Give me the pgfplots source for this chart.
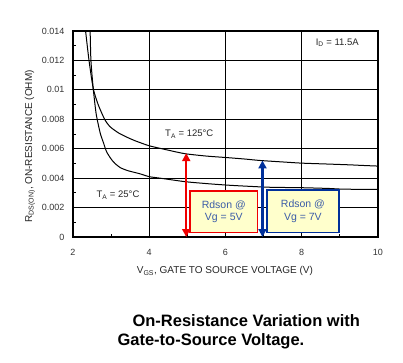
\documentclass[border=0pt]{standalone}
\usepackage{pgfplots}
\pgfplotsset{compat=1.18}
\usepackage{fontspec}
\setmainfont{Liberation Sans}
\usetikzlibrary{arrows.meta}
\definecolor{boxfill}{HTML}{FFFFCC}
\definecolor{boxtext}{HTML}{3B5CA8}
\definecolor{darkblue}{HTML}{00309A}
\definecolor{brightred}{HTML}{F00000}
\begin{document}
\begin{tikzpicture}
\useasboundingbox (0,0) rectangle (403pt,362pt);
\begin{axis}[
  at={(73pt,125pt)}, anchor=south west,
  scale only axis, width=305pt, height=206pt,
  xmin=2, xmax=10, ymin=0, ymax=0.014,
  xtick={2,4,6,8,10}, xticklabels={2,4,6,8,10},
  ytick={0,0.002,0.004,0.006,0.008,0.010,0.012,0.014},
  yticklabels={0,0.002,0.004,0.006,0.008,0.01,0.012,0.014},
  scaled y ticks=false,
  minor x tick num=1, minor y tick num=1,
  grid=major, major grid style={black, line width=0.9pt},
  axis line style={black, line width=1.2pt},
  tick align=inside, major tick length=0pt, minor tick length=3pt,
  minor tick style={black, line width=0.9pt},
  tick pos=left,
  ticklabel style={font=\fontsize{9}{10}\selectfont, text=black!80},
  yticklabel style={xshift=-5pt},
  xticklabel style={yshift=-9pt},
  /pgf/number format/assume math mode=true,
  xlabel={V\textsubscript{GS}, GATE TO SOURCE VOLTAGE (V)},
  ylabel={R\textsubscript{DS(ON)}, ON-RESISTANCE (OHM)},
  label style={font=\fontsize{10}{11}\selectfont, text=black!85},
  xlabel style={at={(axis description cs:0.498,-0.165)}, anchor=center},
  ylabel style={at={(axis description cs:-0.141,0.44)}, anchor=center},
]
\addplot[black, line width=1pt, smooth, tension=0.4] coordinates {
(2.33,0.0140) (2.42,0.0120) (2.53,0.0101) (2.66,0.0090) (2.83,0.0080)
(2.97,0.0075) (3.19,0.00708) (3.40,0.0068) (3.63,0.00654) (4.0,0.0062)
(4.5,0.0059) (4.94,0.00566) (5.5,0.0055) (6.02,0.0054) (6.5,0.0053)
(6.91,0.0052) (7.5,0.0051) (8.0,0.00502) (8.66,0.00496) (9.3,0.0049)
(9.53,0.00487) (10,0.00482)
};
\addplot[black, line width=1pt, smooth, tension=0.4] coordinates {
(2.45,0.0140) (2.47,0.0120) (2.53,0.0101) (2.60,0.0085) (2.65,0.0078)
(2.72,0.0070) (2.80,0.0064) (2.88,0.0058) (3.0,0.0053) (3.10,0.0050)
(3.25,0.0047) (3.45,0.0045) (3.75,0.0043) (4.0,0.0041) (4.28,0.0040)
(4.94,0.00376) (5.5,0.00363) (6.02,0.00353) (6.5,0.00346) (7.17,0.00338)
(8.0,0.00335) (8.7,0.0033) (9.0,0.00326) (9.45,0.00324) (10,0.00324)
};
% annotations
\node[font=\fontsize{9.5}{11}\selectfont, text=black!85] at (axis cs:5.05,0.0070) {T\textsubscript{A} = 125\textdegree C};
\node[font=\fontsize{9.5}{11}\selectfont, text=black!85] at (axis cs:3.18,0.00285) {T\textsubscript{A} = 25\textdegree C};
\node[font=\fontsize{9.5}{11}\selectfont, text=black!85] at (axis cs:8.93,0.0132) {I\textsubscript{D} = 11.5A};
\draw[brightred, line width=1.8pt, fill=boxfill] (axis cs:5.07,0.0003) rectangle (axis cs:6.84,0.0031);
\node[align=center, text=boxtext, font=\fontsize{10.5}{12.5}\selectfont] at (axis cs:5.955,0.0017) {Rdson @\\Vg = 5V};
\draw[darkblue, line width=1.8pt, fill=boxfill] (axis cs:7.08,0.0003) rectangle (axis cs:8.98,0.0032);
\node[align=center, text=boxtext, font=\fontsize{10.5}{12.5}\selectfont] at (axis cs:8.03,0.00175) {Rdson @\\Vg = 7V};
\draw[brightred, line width=2.5pt, {Triangle[length=8pt,width=8pt]}-{Triangle[length=8pt,width=8pt]}] (axis cs:4.97,0) -- (axis cs:4.97,0.0057);
\draw[darkblue, line width=2.5pt, {Triangle[length=8pt,width=8pt]}-{Triangle[length=8pt,width=8pt]}] (axis cs:6.97,0) -- (axis cs:6.97,0.0052);
\end{axis}
\node[anchor=base west, font=\fontsize{16.5}{18}\selectfont\bfseries] at (129pt,35.3pt) {On-Resistance Variation with};
\node[anchor=base west, font=\fontsize{16.5}{18}\selectfont\bfseries] at (114pt,17pt) {Gate-to-Source Voltage.};
\end{tikzpicture}
\end{document}
